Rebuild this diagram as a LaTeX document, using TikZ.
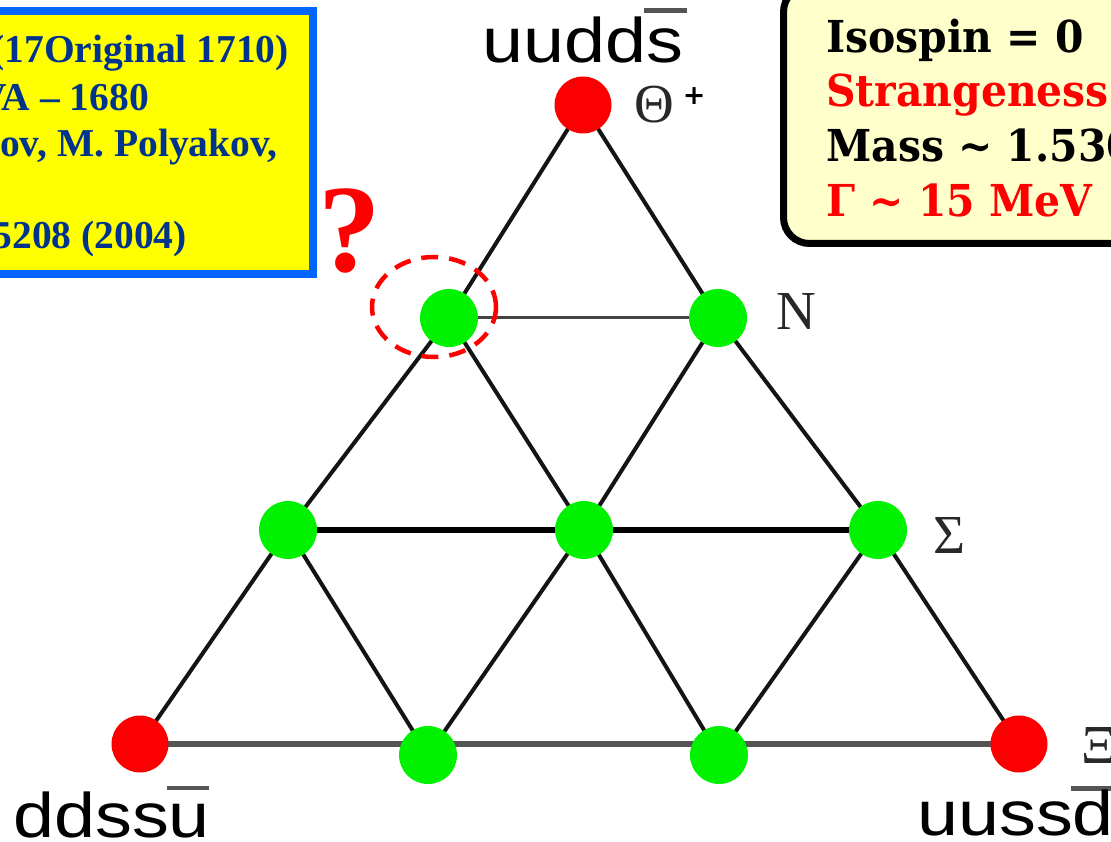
\documentclass[tikz,border=0pt]{standalone}
\usepackage{fontspec}
\setmainfont{Liberation Serif}
\newfontfamily\sansf{Liberation Sans}
\newfontfamily\djv{DejaVu Serif}
\newfontfamily\djvsans{DejaVu Sans}
\usetikzlibrary{shapes.geometric,backgrounds}
\definecolor{nodegreen}{RGB}{0,242,0}
\definecolor{nodered}{RGB}{250,0,0}
\definecolor{textred}{RGB}{255,0,0}
\definecolor{navy}{RGB}{0,51,140}
\definecolor{boxblue}{RGB}{0,102,255}
\definecolor{boxyellow}{RGB}{255,255,0}
\definecolor{paleyellow}{RGB}{255,255,204}
\definecolor{linegray}{RGB}{85,85,85}
\definecolor{latblack}{RGB}{20,20,20}
\definecolor{labelgray}{RGB}{40,40,40}
\newcommand\qbar[1]{\rlap{\kern-0.03em\textcolor{linegray}{\rule[#1]{0.58em}{0.075em}}}}
\tikzset{
  lat/.style={line width=4pt, draw=latblack},
  gnode/.style={circle, fill=nodegreen, minimum size=58pt, inner sep=0pt},
  rnode/.style={circle, fill=nodered, minimum size=57pt, inner sep=0pt},
  quark/.style={font=\sansf\fontsize{63}{70}\selectfont, inner sep=0pt, text=black, xscale=1.17},
  hadron/.style={font=\fontsize{55}{60}\selectfont, inner sep=0pt, text=labelgray},
  lefttext/.style={font=\bfseries\fontsize{39.5}{44}\selectfont, text=navy, inner sep=0pt, anchor=base east},
  righttext/.style={font=\djv\bfseries\fontsize{44}{50}\selectfont, inner sep=0pt, anchor=base west, text=black, xscale=0.93},
}
\begin{document}
\begin{tikzpicture}[x=1pt,y=-1pt]
\useasboundingbox (0,0) rectangle (1111,842);
\clip (0,0) rectangle (1111,842);

% lattice nodes
\node[rnode] (th) at (583,105) {};
\node[gnode] (l2) at (449,318) {};
\node[gnode] (r2) at (718,318) {};
\node[gnode] (l3) at (288,530) {};
\node[gnode] (c3) at (584,530) {};
\node[gnode] (r3) at (878,530) {};
\node[rnode] (bl) at (140,744) {};
\node[gnode] (b2) at (428,755) {};
\node[gnode] (b3) at (719,755) {};
\node[rnode] (br) at (1019,744) {};

\begin{scope}[on background layer]
  \draw[lat] (th.center) -- (l2.center) -- (l3.center) -- (bl.center);
  \draw[lat] (th.center) -- (r2.center) -- (r3.center) -- (br.center);
  \draw[lat] (l2.center) -- (c3.center) -- (b3.center);
  \draw[lat] (r2.center) -- (c3.center) -- (b2.center);
  \draw[lat] (l3.center) -- (b2.center);
  \draw[lat] (r3.center) -- (b3.center);
  \draw[line width=3pt, draw=linegray!80!black] (l2.center) -- (r2.center);
  \draw[line width=6.5pt, draw=black] (l3.center) -- (c3.center) -- (r3.center);
  \draw[line width=5.5pt, draw=linegray] (bl.center) -- (br.center);
\end{scope}

% quark content labels
\node[quark, anchor=base west] (tq) at (482,63) {uudd\qbar{0.8em}s};
\node[quark, anchor=base west] (lq) at (13,837) {ddss\qbar{0.74em}u};
\node[quark, anchor=base west] (rq) at (917,835) {uuss\qbar{0.7em}d};

% hadron labels
\node[hadron, anchor=base west] (thl) at (634,123) {Θ\kern9pt\raisebox{0.33em}{\color{black}\djvsans\bfseries\fontsize{27}{27}\selectfont +}};
\node[hadron, anchor=base west] (nl) at (776,330) {N};
\node[hadron, anchor=base west] (sl) at (933,553) {Σ};
\node[hadron, anchor=base west] (xl) at (1081,763) {Ξ};

% question mark and dashed ring
\node[font=\bfseries\fontsize{125}{130}\selectfont, text=textred, inner sep=0pt, anchor=base] (q) at (350,272) {?};
\node[ellipse, draw=textred, line width=4.5pt, dash pattern=on 17pt off 11pt, minimum width=124pt, minimum height=100pt, inner sep=0pt] (ring) at (434,307) {};

% left box
\draw[line width=8pt, draw=boxblue, fill=boxyellow] (-10,11) rectangle (313,274);
\node[lefttext] (t1) at (289,63) {(17Original 1710)};
\node[lefttext] (t2) at (149,111) {VA – 1680};
\node[lefttext] (t3) at (278,157) {ov, M. Polyakov,};
\node[lefttext] (t4) at (187,249) {5208 (2004)};

% right box
\draw[line width=7pt, draw=black, fill=paleyellow, rounded corners=26pt] (783.5,-14) rectangle (1160,243.5);
\node[righttext] (iso) at (826,53) {Isospin = 0};
\node[righttext, text=textred] (str) at (826,107) {Strangeness};
\node[righttext] (mass) at (826,162) {Mass \textasciitilde{} 1.530};
\node[righttext, text=textred] (gam) at (826,217) {Γ \textasciitilde{} 15 MeV};
\end{tikzpicture}
\end{document}
